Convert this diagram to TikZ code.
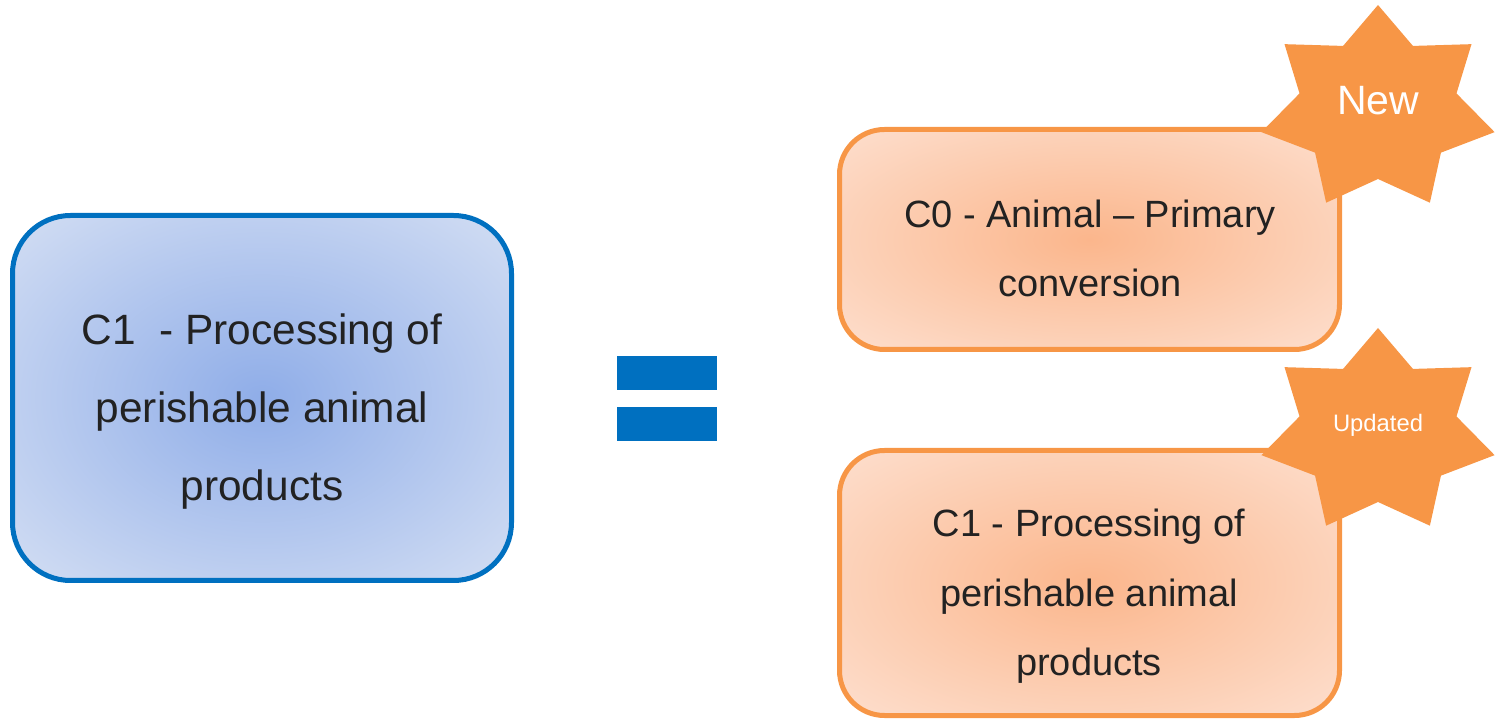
\documentclass[tikz,border=0pt]{standalone}
\usepackage{fontspec}
\setmainfont{Liberation Sans}
\definecolor{blueIn}{HTML}{8FADE8}
\definecolor{blueOut}{HTML}{D0DCF3}
\definecolor{blueCorner}{HTML}{DAE3F6}
\definecolor{blueLine}{HTML}{0070C0}
\definecolor{orIn}{HTML}{FBB68C}
\definecolor{orOut}{HTML}{FDDDCB}
\definecolor{orCorner}{HTML}{FEE6D8}
\definecolor{orLine}{HTML}{F79646}
\definecolor{txt}{HTML}{222222}
\pgfdeclareradialshading{blueglow}{\pgfpointorigin}{color(0bp)=(blueIn); color(34bp)=(blueOut); color(72bp)=(blueCorner)}
\pgfdeclareradialshading{orangeglow}{\pgfpointorigin}{color(0bp)=(orIn); color(34bp)=(orOut); color(72bp)=(orCorner)}
\tikzset{
  bluebox/.style={draw=blueLine, line width=2.5pt, rounded corners=29pt, shading=blueglow, rectangle, inner sep=0pt},
  orbox/.style={draw=orLine, line width=2.5pt, rounded corners=22.5pt, shading=orangeglow, rectangle, inner sep=0pt},
  bigtext/.style={text=txt, align=center, inner sep=0pt, font=\fontsize{21.2pt}{39pt}\selectfont},
  medtext/.style={text=txt, align=center, inner sep=0pt, font=\fontsize{19pt}{34.5pt}\selectfont},
  eqbar/.style={fill=blueLine, rectangle, inner sep=0pt, minimum width=50pt, minimum height=17pt},
  starfill/.style={fill=orLine},
  startext/.style={text=white, inner sep=0pt}
}
\begin{document}
\begin{tikzpicture}[x=0.5pt, y=-0.5pt]
\useasboundingbox (0,0) rectangle (1495,721);
% left box
\node[bluebox, minimum width=249.5pt, minimum height=182.5pt] (oldbox) at (262,398) {};
\node[bigtext] (oldtext) at (262,412) {C1\ \ - Processing of\\perishable animal\\products};
% equals sign
\node[eqbar] (eqtop) at (667,373) {};
\node[eqbar] (eqbot) at (667,424) {};
% top right box
\node[orbox, minimum width=250pt, minimum height=110pt] (c0box) at (1089.5,239.5) {};
\node[medtext] (c0text) at (1090,248) {C0 - Animal – Primary\\conversion};
% bottom right box
\node[orbox, minimum width=250pt, minimum height=132.5pt] (c1box) at (1089.5,583) {};
\node[medtext, font=\fontsize{19pt}{34.8pt}\selectfont] (c1text) at (1089,596.5) {C1 - Processing of\\perishable animal\\products};
% stars
\begin{scope}[shift={(1378,109)}, xscale=1.15]
  \fill[starfill] (-90:104) \foreach \i in {0,...,6} { -- ({-90+\i*360/7}:104) -- ({-90+\i*360/7+180/7}:70)} -- cycle;
\end{scope}
\begin{scope}[shift={(1378,432)}, xscale=1.15]
  \fill[starfill] (-90:104) \foreach \i in {0,...,6} { -- ({-90+\i*360/7}:104) -- ({-90+\i*360/7+180/7}:70)} -- cycle;
\end{scope}
\node[startext, font=\fontsize{20.5pt}{24pt}\selectfont] (newlbl) at (1378,101) {New};
\node[startext, font=\fontsize{11.9pt}{14pt}\selectfont] (updlbl) at (1378,425) {Updated};
\end{tikzpicture}
\end{document}
